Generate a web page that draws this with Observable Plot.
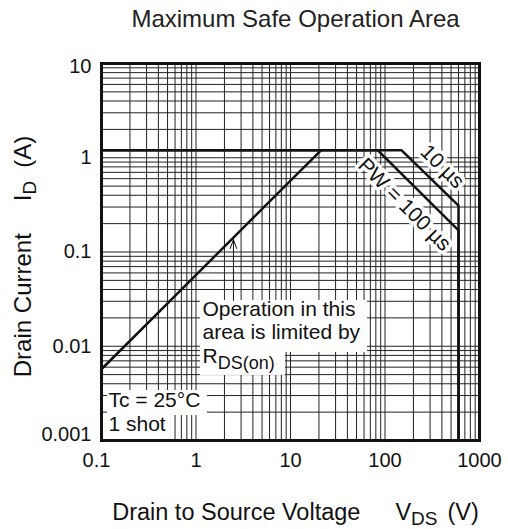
<!DOCTYPE html>
<html><head><meta charset="utf-8">
<script src="https://cdn.jsdelivr.net/npm/d3@7"></script>
<script src="https://cdn.jsdelivr.net/npm/@observablehq/plot@0.6"></script>
<style>
body{margin:0;background:#fff;font-family:"Liberation Sans",Arial,Helvetica,sans-serif;}
#title{height:40px;box-sizing:border-box;padding-top:7px;padding-left:83px;width:508px;text-align:center;font-size:24px;line-height:23px;color:#222;}
#chart svg{display:block;}
</style></head><body>
<div id="title">Maximum Safe Operation Area</div>
<div id="chart"></div>
<script>
// tick labels / grid
const xTicks = [0.1, 1, 10, 100, 1000];
const yTicks = [0.001, 0.01, 0.1, 1, 10];
const gridSteps = [1, 2, 3, 4, 5, 6, 7, 8, 9];

// curves (V_DS in volts, I_D in amperes)
const rdsVoltage = [0.1, 21];
const rdsCurrent = [0.0057, 1.2];
const pw100Voltage = [0.1, 84, 600, 600];
const pw100Current = [1.2, 1.2, 0.17, 0.001];
const pw10Voltage = [0.1, 150, 600, 600];
const pw10Current = [1.2, 1.2, 0.31, 0.001];

// curve labels
const curveLabels = ["10 µs", "PW = 100 µs"];
const curveLabelVoltage = [405, 161];
const curveLabelCurrent = [0.807, 0.319];

// annotations
const noteTexts = ["Operation in this\narea is limited by\nRDS(on)", "Tc = 25°C\n1 shot"];
const noteVoltage = [1.172, 0.1186];
const noteCurrent = [0.0316, 0.00337];
const noteBoxes = [
  {x1: 1.116, x2: 65.3, y1: 0.0086, y2: 0.0306},
  {x1: 1.116, x2: 8.85, y1: 0.0049, y2: 0.0086},
  {x1: 0.1158, x2: 1.32, y1: 0.00184, y2: 0.00339},
  {x1: 0.1158, x2: 0.537, y1: 0.001, y2: 0.00184}
];
const arrowVoltage = [2.49];
const arrowFrom = [0.0306];
const arrowTo = [0.135];

const xLabel = "Drain to Source Voltage VDS (V)";
const yLabel = "Drain Current ID (A)";

const xGrid = xTicks.slice(0, -1).flatMap(d => gridSteps.map(s => d * s)).concat([xTicks[xTicks.length - 1]]);
const yGrid = yTicks.slice(0, -1).flatMap(d => gridSteps.map(s => d * s)).concat([yTicks[yTicks.length - 1]]);
const pts = (xs, ys) => xs.map((x, i) => ({x, y: ys[i]}));
const tickStyle = {tickSize: 0, fontSize: 20, tickFormat: d => String(d), label: null, fill: "#111"};

const chart = Plot.plot({
  width: 508,
  height: 489,
  marginTop: 23,
  marginBottom: 89,
  marginLeft: 101,
  marginRight: 29,
  style: {fontFamily: '"Liberation Sans", Arial, sans-serif', background: "white", color: "black"},
  x: {type: "log", domain: [0.1, 1000]},
  y: {type: "log", domain: [0.001, 10]},
  marks: [
    Plot.ruleX(xGrid, {stroke: "#222", strokeWidth: 1}),
    Plot.ruleY(yGrid, {stroke: "#222", strokeWidth: 1}),
    Plot.rect(noteBoxes, {x1: "x1", x2: "x2", y1: "y1", y2: "y2", fill: "white"}),
    Plot.line(pts(rdsVoltage, rdsCurrent), {x: "x", y: "y", stroke: "#111", strokeWidth: 2.5}),
    Plot.line(pts(pw100Voltage, pw100Current), {x: "x", y: "y", stroke: "#111", strokeWidth: 2.5}),
    Plot.line(pts(pw10Voltage, pw10Current), {x: "x", y: "y", stroke: "#111", strokeWidth: 2.5}),
    Plot.arrow(arrowVoltage.map((x, i) => ({x, y1: arrowFrom[i], y2: arrowTo[i]})), {
      x1: "x", x2: "x", y1: "y1", y2: "y2", stroke: "#111", strokeWidth: 1, headLength: 14, headAngle: 40
    }),
    Plot.text(curveLabels.map((t, i) => ({t, x: curveLabelVoltage[i], y: curveLabelCurrent[i]})), {
      x: "x", y: "y", text: "t", rotate: 45, fontSize: 21, fill: "#111",
      stroke: "white", strokeWidth: 7, paintOrder: "stroke"
    }),
    Plot.text(noteTexts.map((t, i) => ({t, x: noteVoltage[i], y: noteCurrent[i]})), {
      x: "x", y: "y", text: "t", textAnchor: "start", lineAnchor: "top",
      lineHeight: 1.12, fontSize: 21, fill: "#111"
    }),
    Plot.frame({stroke: "#111", strokeWidth: 3}),
    Plot.axisX(xTicks.slice(1), {...tickStyle, tickPadding: 12}),
    Plot.axisX(xTicks.slice(0, 1), {...tickStyle, tickPadding: 12, dx: -5}),
    Plot.axisY(yTicks.slice(1, -1), {...tickStyle, tickPadding: 10}),
    Plot.axisY(yTicks.slice(-1), {...tickStyle, tickPadding: 10, dy: 3}),
    Plot.axisY(yTicks.slice(0, 1), {...tickStyle, tickPadding: 10, dy: -6}),
    Plot.text([xLabel], {frameAnchor: "bottom", text: d => d, dx: 5, dy: 79, textAnchor: "middle", lineAnchor: "bottom", fontSize: 23.5, fill: "#111"}),
    Plot.text([yLabel], {frameAnchor: "left", text: d => d, rotate: -90, dx: -71, dy: 4.5, textAnchor: "middle", lineAnchor: "bottom", fontSize: 24, fill: "#111"})
  ]
});
document.getElementById("chart").appendChild(chart);

// subscripts
const NS = "http://www.w3.org/2000/svg";
function rich(el, parts) {
  el.textContent = "";
  let shifted = 0;
  for (const p of parts) {
    const ts = document.createElementNS(NS, "tspan");
    ts.textContent = p.t;
    if (p.dx) ts.setAttribute("dx", p.dx);
    const want = p.sub || 0;
    if (want !== shifted) { ts.setAttribute("dy", want - shifted); shifted = want; }
    if (p.size) ts.setAttribute("font-size", p.size);
    el.appendChild(ts);
  }
}
const richMap = {
  [xLabel]: [{t: "Drain to Source Voltage"}, {t: "V", dx: 35}, {t: "DS", sub: 5, size: 19}, {t: "(V)", dx: 10}],
  [yLabel]: [{t: "Drain Current"}, {t: "I", dx: 32}, {t: "D", sub: 5, size: 19}, {t: "(A)", dx: 13}],
  "RDS(on)": [{t: "R"}, {t: "DS(on)", sub: 6, size: 18}]
};
chart.querySelectorAll("text, tspan").forEach(el => {
  if (el.children.length === 0 && richMap[el.textContent]) rich(el, richMap[el.textContent]);
});
</script>
</body></html>
